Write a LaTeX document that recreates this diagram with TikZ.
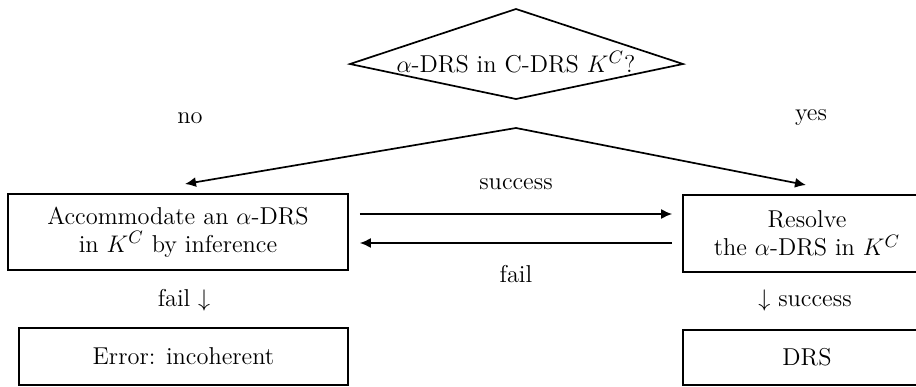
\documentclass[tikz,border=0pt]{standalone}
\usetikzlibrary{arrows.meta}
\begin{document}
\begin{tikzpicture}[x=0.5pt,y=-0.5pt,
  every node/.style={font=\fontsize{12.2}{14.2}\selectfont},
  line/.style={line width=0.85pt},
  arr/.style={line width=0.85pt,-{Latex[length=5.5pt,width=5pt]}},
  box/.style={draw,line width=0.85pt,rectangle,inner sep=0pt,align=center},
  lbl/.style={inner sep=1pt}]
  \useasboundingbox (0,0) rectangle (916,386);
  \clip (0,0) rectangle (916,386);

  % decision diamond
  \node[lbl] (q) at (516,62) {$\alpha$-DRS in C-DRS $K^C$?};
  \draw[line] (516,9) -- (683,64) -- (516,99) -- (350,64) -- cycle;

  % process boxes
  \node[box,minimum width=170pt,minimum height=38pt] (acc) at (178,232)
    {Accommodate an $\alpha$-DRS\\in $K^C$ by inference};
  \node[box,minimum width=124pt,minimum height=38.5pt] (res) at (807,233.5)
    {Resolve\\the $\alpha$-DRS in $K^C$};
  \node[box,minimum width=164.5pt,minimum height=28.5pt] (err) at (183.5,356.5)
    {Error: incoherent};
  \node[box,minimum width=124pt,minimum height=27.5pt] (drs) at (807,357.5)
    {DRS};

  % branching roof below the diamond
  \coordinate (apex) at (516,128);
  \coordinate (noend) at (185,184);
  \coordinate (yesend) at (806,185);
  \draw[arr] (apex) -- (noend);
  \draw[arr] (apex) -- (yesend);
  \node[lbl] (no) at (190,118) {no};
  \node[lbl] (yes) at (811,118) {yes};

  % exchange between the two boxes
  \draw[arr] ([xshift=5.5pt,yshift=9pt]acc.east) -- ([xshift=-5pt,yshift=9pt]acc.east -| res.west);
  \draw[arr] ([xshift=-5pt,yshift=-5.5pt]acc.east -| res.west) -- ([xshift=5.5pt,yshift=-5.5pt]acc.east);
  \node[lbl] (succ) at (516,184) {success};
  \node[lbl] (fail) at (516,274) {fail};

  % outcomes
  \node[lbl] (failarr) at (184,300) {fail $\downarrow$};
  \node[lbl] (succarr) at (805,300) {$\downarrow$ success};
\end{tikzpicture}
\end{document}
